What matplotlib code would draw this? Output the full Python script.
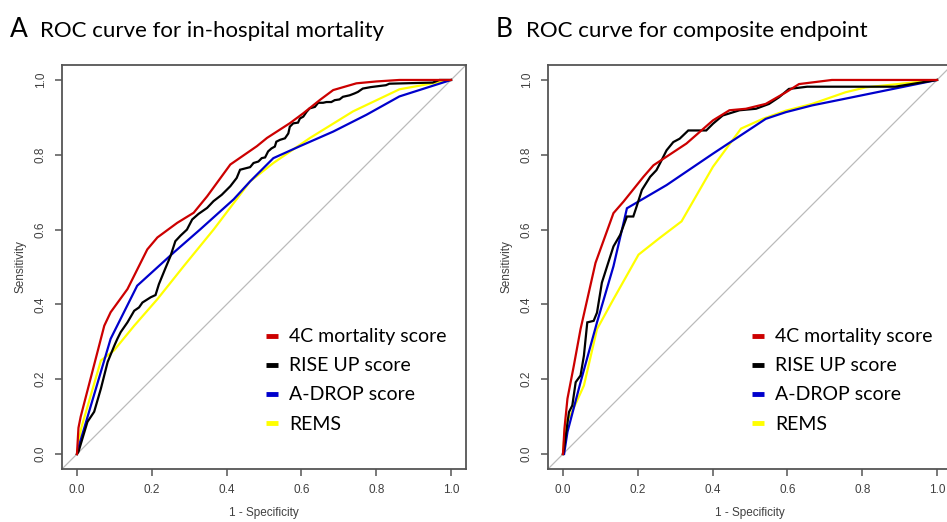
""" ROC curves for in-hospital mortality and composite endpoint.
"""

import matplotlib
matplotlib.use('Agg')
import matplotlib.pyplot as plt
from matplotlib.lines import Line2D

score_names = ['4C mortality score', 'RISE UP score', 'A-DROP score', 'REMS']
score_colors = ['#cc0000', '#000000', '#0000cc', '#ffff00']

# panel A, in-hospital mortality
mort_4c_fpr = [0, 0.004, 0.01, 0.073, 0.09, 0.135, 0.188, 0.215, 0.268, 0.312,
               0.348, 0.41, 0.481, 0.508, 0.57, 0.605, 0.65, 0.685, 0.747,
               0.80, 0.862, 0.951, 1.0]
mort_4c_tpr = [0, 0.07, 0.10, 0.343, 0.379, 0.441, 0.547, 0.579, 0.618, 0.645,
               0.689, 0.774, 0.823, 0.845, 0.885, 0.911, 0.947, 0.973, 0.991,
               0.996, 1.0, 1.0, 1.0]
mort_rise_fpr = [0, 0.004, 0.028, 0.046, 0.064, 0.082, 0.1, 0.108, 0.117,
                 0.135, 0.153, 0.166, 0.175, 0.197, 0.21, 0.219, 0.228, 0.237,
                 0.25, 0.263, 0.277, 0.294, 0.308, 0.325, 0.348, 0.365, 0.387,
                 0.41, 0.427, 0.436, 0.463, 0.472, 0.485, 0.494, 0.503, 0.511,
                 0.52, 0.529, 0.533, 0.543, 0.556, 0.565, 0.569, 0.578, 0.591,
                 0.596, 0.605, 0.614, 0.622, 0.636, 0.645, 0.658, 0.667, 0.68,
                 0.689, 0.702, 0.711, 0.729, 0.742, 0.751, 0.764, 0.786, 0.826,
                 0.835, 0.951, 0.969, 1.0]
mort_rise_tpr = [0, 0.006, 0.086, 0.113, 0.175, 0.246, 0.29, 0.308, 0.326,
                 0.352, 0.383, 0.392, 0.405, 0.419, 0.425, 0.454, 0.476, 0.498,
                 0.529, 0.569, 0.584, 0.6, 0.627, 0.642, 0.658, 0.676, 0.693,
                 0.716, 0.738, 0.76, 0.767, 0.778, 0.782, 0.791, 0.793, 0.809,
                 0.817, 0.822, 0.835, 0.84, 0.844, 0.857, 0.875, 0.884, 0.886,
                 0.897, 0.902, 0.915, 0.924, 0.928, 0.939, 0.939, 0.941, 0.941,
                 0.946, 0.948, 0.955, 0.959, 0.964, 0.968, 0.977, 0.981, 0.986,
                 0.99, 0.993, 1.0, 1.0]
mort_adrop_fpr = [0, 0.006, 0.09, 0.161, 0.259, 0.33, 0.419, 0.463, 0.525,
                  0.596, 0.685, 0.774, 0.862, 1.0]
mort_adrop_tpr = [0, 0.024, 0.308, 0.45, 0.539, 0.601, 0.681, 0.729, 0.791,
                  0.823, 0.862, 0.907, 0.956, 1.0]
mort_rems_fpr = [0, 0.011, 0.064, 0.099, 0.153, 0.215, 0.286, 0.366, 0.463,
                 0.525, 0.623, 0.738, 0.862, 1.0]
mort_rems_tpr = [0, 0.068, 0.25, 0.277, 0.343, 0.414, 0.503, 0.601, 0.729,
                 0.778, 0.845, 0.916, 0.975, 1.0]

# panel B, composite endpoint
comp_4c_fpr = [0, 0.004, 0.012, 0.029, 0.047, 0.087, 0.135, 0.162, 0.215,
               0.242, 0.277, 0.33, 0.401, 0.445, 0.489, 0.542, 0.596, 0.631,
               0.719, 1.0]
comp_4c_tpr = [0, 0.068, 0.148, 0.236, 0.334, 0.511, 0.644, 0.675, 0.741,
               0.772, 0.795, 0.83, 0.892, 0.919, 0.923, 0.936, 0.967, 0.989,
               1.0, 1.0]
comp_rise_fpr = [0, 0.003, 0.016, 0.025, 0.034, 0.047, 0.056, 0.065, 0.082,
                 0.091, 0.104, 0.118, 0.135, 0.153, 0.171, 0.188, 0.197, 0.211,
                 0.233, 0.25, 0.264, 0.277, 0.295, 0.312, 0.335, 0.383, 0.401,
                 0.427, 0.472, 0.516, 0.551, 0.578, 0.604, 0.653, 0.888, 1.0]
comp_rise_tpr = [0, 0.015, 0.112, 0.13, 0.192, 0.21, 0.263, 0.352, 0.356,
                 0.378, 0.458, 0.502, 0.555, 0.586, 0.635, 0.635, 0.662, 0.706,
                 0.741, 0.759, 0.786, 0.812, 0.834, 0.843, 0.865, 0.865, 0.883,
                 0.905, 0.919, 0.923, 0.936, 0.954, 0.976, 0.982, 0.982, 1.0]
comp_adrop_fpr = [0, 0.003, 0.012, 0.047, 0.091, 0.135, 0.171, 0.277, 0.401,
                  0.489, 0.542, 0.596, 0.666, 0.755, 1.0]
comp_adrop_tpr = [0, 0, 0.059, 0.192, 0.352, 0.502, 0.657, 0.719, 0.803,
                  0.861, 0.896, 0.914, 0.932, 0.95, 1.0]
comp_rems_fpr = [0, 0.007, 0.02, 0.056, 0.091, 0.135, 0.202, 0.259, 0.317,
                 0.401, 0.476, 0.534, 0.596, 0.666, 0.755, 0.808, 1.0]
comp_rems_tpr = [0, 0.086, 0.104, 0.183, 0.334, 0.414, 0.533, 0.578, 0.622,
                 0.768, 0.87, 0.896, 0.918, 0.936, 0.967, 0.98, 1.0]

ticks = [0.0, 0.2, 0.4, 0.6, 0.8, 1.0]
tick_labels = ['0.0', '0.2', '0.4', '0.6', '0.8', '1.0']

panels = [
    ('A', 'ROC curve for in-hospital mortality',
     [(mort_4c_fpr, mort_4c_tpr), (mort_rise_fpr, mort_rise_tpr),
      (mort_adrop_fpr, mort_adrop_tpr), (mort_rems_fpr, mort_rems_tpr)]),
    ('B', 'ROC curve for composite endpoint',
     [(comp_4c_fpr, comp_4c_tpr), (comp_rise_fpr, comp_rise_tpr),
      (comp_adrop_fpr, comp_adrop_tpr), (comp_rems_fpr, comp_rems_tpr)]),
]

W, H = 947, 522
fig = plt.figure(figsize=(W / 100, H / 100), dpi=100)
fig.patch.set_facecolor('white')

axes_left = [62, 548]
frame_color = '#555555'
text_color = '#404040'
title_font = ['Lato', 'DejaVu Sans']
tick_font = ['Liberation Sans', 'DejaVu Sans']

for panel_idx, (letter, title, curves) in enumerate(panels):
    left = axes_left[panel_idx]
    ax = fig.add_axes([left / W, (H - 469) / H, 404 / W, 404 / H])

    # reference diagonal across the whole plot region
    ax.plot([-0.1, 1.1], [-0.1, 1.1], color='#bbbbbb', lw=0.9, zorder=1)

    # draw in reverse so the red curve ends up on top
    for curve_idx in reversed(range(len(curves))):
        fpr, tpr = curves[curve_idx]
        ax.plot(fpr, tpr, color=score_colors[curve_idx], lw=1.6,
                solid_joinstyle='miter', zorder=2 + (4 - curve_idx))

    ax.set_xlim(-0.04, 1.04)
    ax.set_ylim(-0.04, 1.04)

    ax.set_xticks(ticks)
    ax.set_xticklabels(tick_labels, family=tick_font, fontsize=8.5,
                       color=text_color)
    ax.set_yticks(ticks)
    ax.set_yticklabels(tick_labels, family=tick_font, fontsize=8.5,
                       color=text_color, rotation=90, va='center')
    ax.tick_params(direction='out', length=5, width=1.1, color=frame_color,
                   pad=6)

    for spine in ax.spines.values():
        spine.set_color(frame_color)
        spine.set_linewidth(1.3)

    ax.set_xlabel('1 - Specificity', family=tick_font, fontsize=8.5,
                  color=text_color, labelpad=8)
    ax.set_ylabel('Sensitivity', family=tick_font, fontsize=8.5,
                  color=text_color, labelpad=6)

    handles = [Line2D([], [], color=c, lw=3.5, solid_capstyle='butt')
               for c in score_colors]
    ax.legend(handles, score_names, loc='lower left',
              bbox_to_anchor=(0.462, 0.047), frameon=False,
              handlelength=0.6, handletextpad=0.6, labelspacing=0.62,
              prop={'family': title_font, 'size': 14})

    fig.text((left - 52) / W, 1 - 37 / H, letter, family=title_font,
             fontsize=19, color='black', va='baseline')
    fig.text((left - 22) / W, 1 - 37 / H, title, family=title_font,
             fontsize=16, color='black', va='baseline')

fig.savefig('out.png', dpi=100, facecolor='white')
